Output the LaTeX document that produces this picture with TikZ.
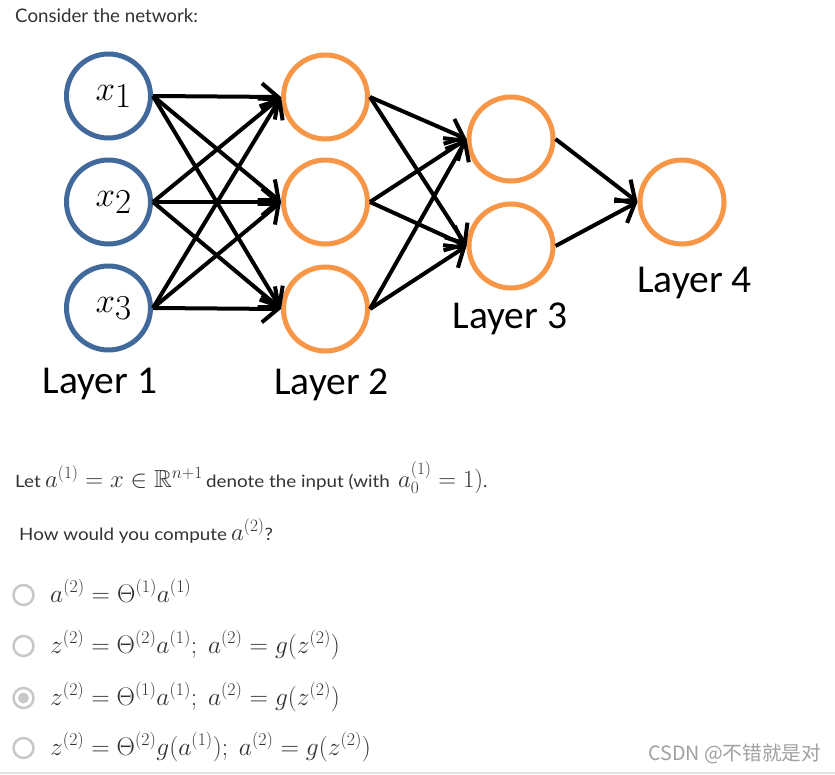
\RequirePackage{fix-cm}
\documentclass[tikz,border=0pt]{standalone}
\usepackage[no-math]{fontspec}
\usepackage{amsmath,amssymb}
\setmainfont{Lato}
\newfontfamily\bodyfont[FakeStretch=1.106]{Lato}
\newfontfamily\layerfont{Carlito}
\newfontfamily\cjkfont{Noto Sans CJK SC}
\usetikzlibrary{arrows.meta}
\definecolor{inblue}{RGB}{65,105,155}
\definecolor{hidorange}{RGB}{247,150,70}
\definecolor{txt}{RGB}{51,51,51}
\definecolor{radiogray}{RGB}{200,200,200}
\definecolor{marktxt}{RGB}{160,160,160}
\definecolor{rulegray}{RGB}{228,228,228}

\begin{document}
\begin{tikzpicture}[x=1pt,y=-1pt,
  neuron/.style={circle, draw, line width=5pt, minimum size=84pt, inner sep=0pt},
  inneuron/.style={neuron, draw=inblue},
  hidneuron/.style={neuron, draw=hidorange},
  arr/.style={line width=4pt, -{Straight Barb[length=16pt,width=27pt,line width=4pt]}},
  layerlbl/.style={anchor=base, inner sep=0pt, font=\layerfont\fontsize{39.5}{42}\selectfont},
  txtline/.style={anchor=base west, inner sep=0pt, text=txt, font=\bodyfont\fontsize{17}{20}\selectfont},
  mathline/.style={anchor=base west, inner sep=0pt, text=txt, font=\fontsize{24.7}{28}\selectfont},
  radio/.style={circle, draw=radiogray, line width=2.5pt, minimum size=20pt, inner sep=0pt},
  radiodot/.style={circle, fill=radiogray, minimum size=11pt, inner sep=0pt},
  optmath/.style={anchor=base west, inner sep=0pt, text=txt, font=\fontsize{25.5}{29}\selectfont}
]
\useasboundingbox (0,0) rectangle (835,775);
\fill[white] (0,0) rectangle (835,775);

% heading
\node[anchor=base west, inner sep=0pt, text=txt, font=\fontsize{18.7}{22}\selectfont] (head) at (15,23) {Consider the network:};

% input layer
\foreach \i/\y in {1/96,2/202,3/308}
  \node[inneuron] (a\i) at (108.5,\y)
    {\fontsize{35}{40}\selectfont\hspace{10pt}$x$\raisebox{-7pt}{$\i$}};
% second layer
\foreach \i/\y in {1/97,2/202,3/309}
  \node[hidneuron] (b\i) at (325.5,\y) {};
% third layer
\foreach \i/\y in {1/139,2/246}
  \node[hidneuron] (c\i) at (511,\y) {};
% output layer
\node[hidneuron] (d1) at (682,202) {};

% connections
\foreach \i in {1,2,3}
  \foreach \j in {1,2,3}
    \draw[arr] (a\i.east) -- (b\j.west);
\foreach \i in {1,2,3}
  \foreach \j in {1,2}
    \draw[arr] (b\i.east) -- (c\j.west);
\foreach \i in {1,2}
  \draw[arr] (c\i.east) -- (d1.west);

% layer labels
\node[layerlbl] (L1) at (100,393) {Layer 1};
\node[layerlbl] (L2) at (331.5,395) {Layer 2};
\node[layerlbl] (L3) at (510,329) {Layer 3};
\node[layerlbl] (L4) at (694.5,293) {Layer 4};

% question text: sans words and formulas placed piece by piece
\node[txtline] (let1) at (15,487) {Let};
\node[mathline] (let2) at (45,487) {$a^{(1)} = x \in \mathbb{R}^{n+1}$};
\node[txtline] (let3) at (206,487) {denote the input (with};
\node[mathline] (let4) at (398,487) {$a_0^{(1)} = 1)$\bodyfont\fontsize{17}{20}\selectfont.};
\node[txtline] (how1) at (19,540) {How would you compute};
\node[mathline] (how2) at (231,540) {$a^{(2)}$\bodyfont\fontsize{17}{20}\selectfont ?};

% answer options
\node[radio] (r1) at (23.5,595) {};
\node[radio] (r2) at (23.5,646) {};
\node[radio] (r3) at (23.5,698) {};
\node[radiodot] (r3dot) at (r3) {};
\node[radio] (r4) at (23.5,748) {};

\node[optmath] (o1) at (50,602) {$a^{(2)} = \Theta^{(1)}a^{(1)}$};
\node[optmath] (o2) at (50,653) {$z^{(2)} = \Theta^{(2)}a^{(1)};\ a^{(2)} = g(z^{(2)})$};
\node[optmath] (o3) at (50,705) {$z^{(2)} = \Theta^{(1)}a^{(1)};\ a^{(2)} = g(z^{(2)})$};
\node[optmath] (o4) at (50,755) {$z^{(2)} = \Theta^{(2)}g(a^{(1)});\ a^{(2)} = g(z^{(2)})$};

% watermark and bottom rule
\node[anchor=base west, inner sep=0pt, text=marktxt, font=\cjkfont\fontsize{19.7}{22}\selectfont] (mark) at (648,760) {CSDN @不错就是对};
\draw[rulegray, line width=2pt] (0,773) -- (835,773);
\end{tikzpicture}
\end{document}
